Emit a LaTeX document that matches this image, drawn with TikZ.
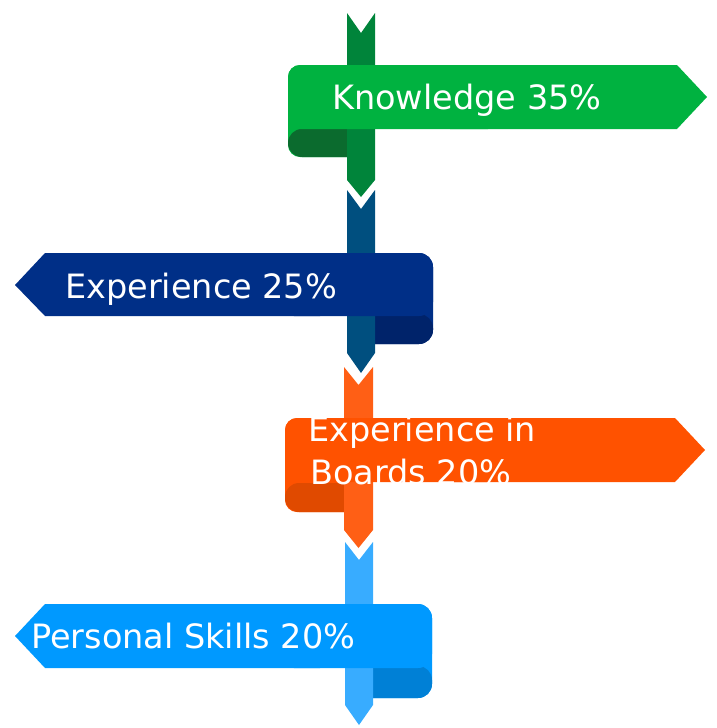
\documentclass[tikz,border=0pt]{standalone}
\usepackage{fontspec}
\newfontfamily\lblfont{DejaVu Sans}
\definecolor{gfront}{RGB}{0,178,64}
\definecolor{gcurl}{RGB}{11,107,46}
\definecolor{gstem}{RGB}{0,132,58}
\definecolor{bfront}{RGB}{0,47,135}
\definecolor{bcurl}{RGB}{0,35,106}
\definecolor{bstem}{RGB}{0,79,127}
\definecolor{ofront}{RGB}{255,82,0}
\definecolor{ocurl}{RGB}{224,74,0}
\definecolor{ostem}{RGB}{255,95,21}
\definecolor{lfront}{RGB}{0,153,255}
\definecolor{lcurl}{RGB}{0,128,214}
\definecolor{lstem}{RGB}{56,172,255}
\tikzset{
  lbl/.style={text=white, inner sep=0pt, anchor=base west, font=\lblfont\fontsize{33.5}{40}\selectfont},
  rc/.style={rounded corners=#1}
}
\begin{document}
\begin{tikzpicture}[x=1pt,y=-1pt]
\useasboundingbox (0,0) rectangle (717,728);
% ---------- green ----------
\fill[gfront,rc=12pt] (288,65) rectangle (359,157);
\fill[gcurl,rc=14pt] (288,129) rectangle (361,157);
\fill[gstem] (347,13) -- (361,33) -- (375,13) -- (375,180) -- (361,197) -- (347,180) -- cycle;
\fill[gfront,rc=12pt] (288,65) rectangle (500,129);
\fill[gfront] (450,65) -- (677,65) -- (707,97) -- (677,129) -- (450,129) -- cycle;
\node[lbl] (know) at (332,109) {Knowledge 35\%};
% ---------- dark blue ----------
\fill[bfront,rc=14pt] (361,253) rectangle (433,344);
\fill[bcurl,rc=14pt] (361,314) rectangle (433,344);
\fill[bstem] (347,190) -- (361,209) -- (375,190) -- (375,353) -- (361,373) -- (347,353) -- cycle;
\fill[bfront] (15,285) -- (45,253) -- (320,253) -- (320,316) -- (45,316) -- cycle;
\fill[bfront,rc=14pt] (280,253) rectangle (433,316);
\node[lbl] (exp) at (65,298) {Experience 25\%};
% ---------- orange ----------
\fill[ofront,rc=12pt] (285,418) rectangle (357,512);
\fill[ocurl,rc=14pt] (285,483) rectangle (358,512);
\fill[ostem] (344,367) -- (358.5,385) -- (373,367) -- (373,530) -- (358.5,548) -- (344,530) -- cycle;
\fill[ofront,rc=12pt] (285,418) rectangle (500,482);
\fill[ofront] (450,418) -- (675,418) -- (705,450) -- (675,482) -- (450,482) -- cycle;
\node[lbl] (board1) at (308,441) {Experience in};
\node[lbl] (board2) at (310,484) {Boards 20\%};
% ---------- light blue ----------
\fill[lfront,rc=14pt] (359,604) rectangle (432,698);
\fill[lcurl,rc=14pt] (359,666) rectangle (432,698);
\fill[lstem] (345,542) -- (359,560) -- (373,542) -- (373,705) -- (359,725) -- (345,705) -- cycle;
\fill[lfront] (15,636) -- (45,604) -- (320,604) -- (320,668) -- (45,668) -- cycle;
\fill[lfront,rc=14pt] (280,604) rectangle (432,668);
\node[lbl] (pers) at (31,648) {Personal Skills 20\%};
\end{tikzpicture}
\end{document}
